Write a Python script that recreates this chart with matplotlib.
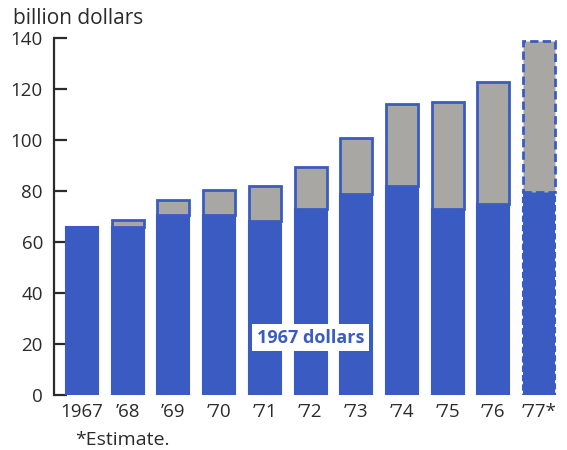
import matplotlib
matplotlib.use("Agg")
import matplotlib.pyplot as plt

years = ["1967", "\u201968", "\u201969", "\u201970", "\u201971", "\u201972", "\u201973", "\u201974", "\u201975", "\u201976", "\u201977*"]
constant_1967 = [66, 66, 70.5, 70.5, 68.3, 73, 79, 82, 73, 75, 79.5]
current_total = [66, 68.5, 76.5, 80.4, 82, 89.4, 100.8, 114, 115, 122.7, 138.8]
yticks = [0, 20, 40, 60, 80, 100, 120, 140]

plt.rcParams["font.family"] = ["Open Sans", "DejaVu Sans"]

BLUE = "#3a5cc2"
GRAY = "#a9a7a3"
TXT = "#2b2b2b"

fig = plt.figure(figsize=(5.67, 4.5), dpi=100)
ax = fig.add_axes([54/567, 1-395/450, (562-54)/567, (395-38)/450])

x = list(range(len(years)))
w = 0.7
for i in x:
    est = years[i].endswith("*")
    ls = (0, (3, 1.5)) if est else "solid"
    ax.bar(i, constant_1967[i], width=w, color=BLUE, edgecolor=BLUE, linewidth=1.5, linestyle=ls, zorder=2)
    extra = current_total[i] - constant_1967[i]
    if extra > 0:
        ax.bar(i, extra, bottom=constant_1967[i], width=w, color=GRAY,
               edgecolor=BLUE, linewidth=2, linestyle=ls, zorder=3)

ax.set_xlim(-0.61, 10.5)
ax.set_ylim(0, 140)
ax.set_yticks(yticks)
ax.set_xticks(x)
ax.set_xticklabels(years)
for s in ["top", "right", "bottom"]:
    ax.spines[s].set_visible(False)
ax.spines["left"].set_color(TXT)
ax.spines["left"].set_linewidth(1.6)
ax.tick_params(axis="y", direction="in", length=9, width=1.6, color=TXT, labelsize=13.5, labelcolor=TXT, pad=8)
ax.tick_params(axis="x", length=0, labelsize=13.5, labelcolor=TXT, pad=6)

ax.text(5.0, 22.5, "1967 dollars", color=BLUE, fontsize=13, fontweight="bold", ha="center", va="center",
        zorder=5, bbox=dict(boxstyle="square,pad=0.25", facecolor="white", edgecolor="none"))

fig.text(13/567, 1-19/450, "billion dollars", fontsize=15, color=TXT, ha="left", va="center")
fig.text(75/567, 1-440/450, "*Estimate.", fontsize=14, color=TXT, ha="left", va="center")

fig.savefig("out.png", dpi=100)
